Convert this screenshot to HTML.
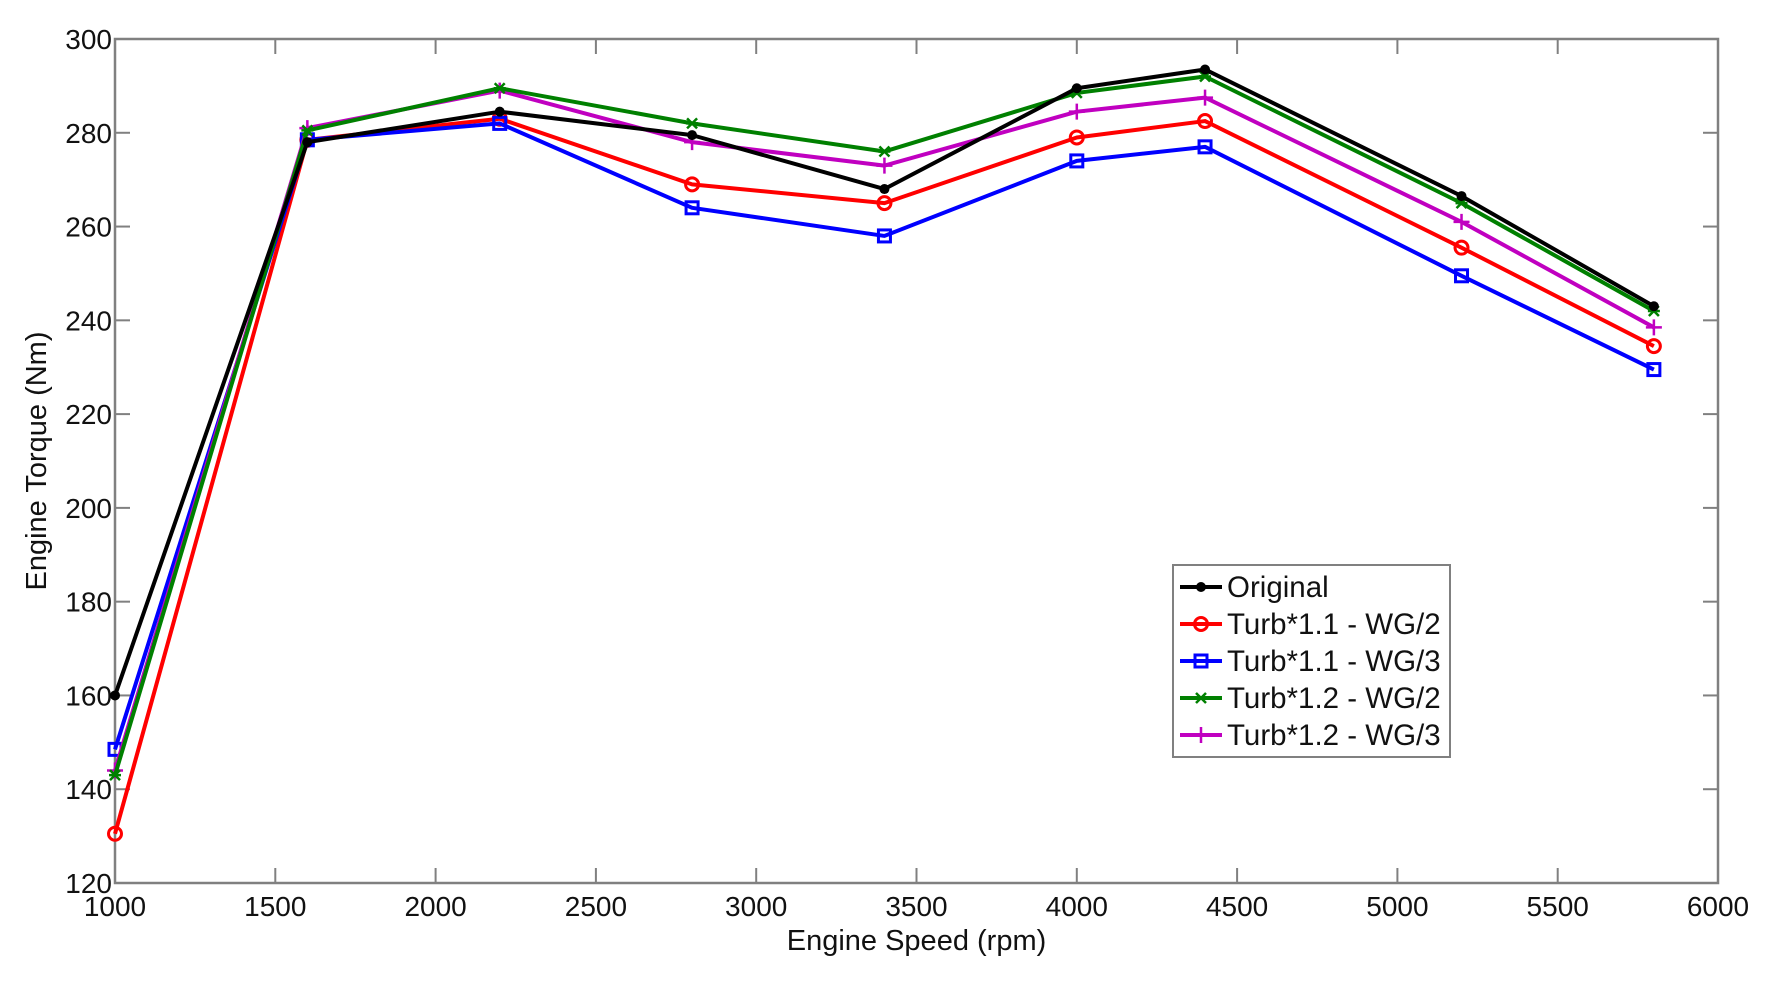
<!DOCTYPE html>
<html><head><meta charset="utf-8"><style>
html,body{margin:0;padding:0;background:#fff;}
svg{display:block;font-family:"Liberation Sans",Arial,sans-serif;}
</style></head><body>
<svg id="s" width="1775" height="986" viewBox="0 0 1775 986" xmlns="http://www.w3.org/2000/svg">
<rect width="1775" height="986" fill="#fff"/>
<g id="g"></g>
</svg>
<script>
const L=115,R=1718,T=39,B=883;
const X=v=>L+(v-1000)/5000*(R-L), Y=v=>B-(v-120)/180*(B-T);
let h='';
h+=`<rect x="${L}" y="${T}" width="${R-L}" height="${B-T}" fill="none" stroke="#808080" stroke-width="2.5"/>`;
for(let v=1000;v<=6000;v+=500){const x=X(v);
 h+=`<line x1="${x}" y1="${B}" x2="${x}" y2="${B-15}" stroke="#808080" stroke-width="2"/><line x1="${x}" y1="${T}" x2="${x}" y2="${T+15}" stroke="#808080" stroke-width="2"/>`;
 h+=`<text x="${x}" y="${B+33}" font-size="28" text-anchor="middle" fill="#111">${v}</text>`;}
for(let v=120;v<=300;v+=20){const y=Y(v);
 h+=`<line x1="${L}" y1="${y}" x2="${L+15}" y2="${y}" stroke="#808080" stroke-width="2"/><line x1="${R}" y1="${y}" x2="${R-15}" y2="${y}" stroke="#808080" stroke-width="2"/>`;
 h+=`<text x="${L-3}" y="${y+10}" font-size="28" text-anchor="end" fill="#111">${v}</text>`;}
h+=`<text x="${(L+R)/2}" y="950" font-size="29" text-anchor="middle" fill="#111">Engine Speed (rpm)</text>`;
h+=`<text transform="translate(46,${(T+B)/2}) rotate(-90)" font-size="29" text-anchor="middle" fill="#111">Engine Torque (Nm)</text>`;
const xs=[1000,1600,2200,2800,3400,4000,4400,5200,5800];
const S=[
 ['#000','dot',[160,278,284.5,279.5,268,289.5,293.5,266.5,243],'Original'],
 ['#ff0000','circ',[130.5,278.5,283,269,265,279,282.5,255.5,234.5],'Turb*1.1 - WG/2'],
 ['#0000ff','sq',[148.5,278.5,282,264,258,274,277,249.5,229.5],'Turb*1.1 - WG/3'],
 ['#008000','star',[143,280.5,289.5,282,276,288.5,292,265,242],'Turb*1.2 - WG/2'],
 ['#c000c0','plus',[144,281,289,278,273,284.5,287.5,261,238.5],'Turb*1.2 - WG/3']];
function mk(c,t,x,y){
 if(t=='dot')return `<circle cx="${x}" cy="${y}" r="5" fill="${c}"/>`;
 if(t=='circ')return `<circle cx="${x}" cy="${y}" r="6.5" fill="none" stroke="${c}" stroke-width="3"/>`;
 if(t=='sq')return `<rect x="${x-6}" y="${y-6}" width="12" height="12" fill="none" stroke="${c}" stroke-width="3"/>`;
 if(t=='star')return `<path d="M${x-5} ${y-5}L${x+5} ${y+5}M${x-5} ${y+5}L${x+5} ${y-5}M${x-6} ${y}H${x+6}" stroke="${c}" stroke-width="2.5"/>`;
 return `<path d="M${x-8} ${y}H${x+8}M${x} ${y-8}V${y+8}" stroke="${c}" stroke-width="2.5"/>`;}
for(const [c,t,d] of [S[1],S[2],S[4],S[3],S[0]]){
 h+=`<polyline points="${xs.map((x,i)=>X(x)+','+Y(d[i])).join(' ')}" fill="none" stroke="${c}" stroke-width="4" stroke-linejoin="round"/>`;
 xs.forEach((x,i)=>h+=mk(c,t,X(x),Y(d[i])));}
h+=`<rect x="1173" y="565" width="277" height="192" fill="#fff" stroke="#808080" stroke-width="2"/>`;
S.forEach(([c,t,d,n],i)=>{const y=587+i*37;
 h+=`<line x1="1180" y1="${y}" x2="1222" y2="${y}" stroke="${c}" stroke-width="4"/>`+mk(c,t,1201,y);
 h+=`<text x="1227" y="${y+10}" font-size="29.5" fill="#111">${n}</text>`;});
document.getElementById('g').innerHTML=h;
</script>
</body></html>
